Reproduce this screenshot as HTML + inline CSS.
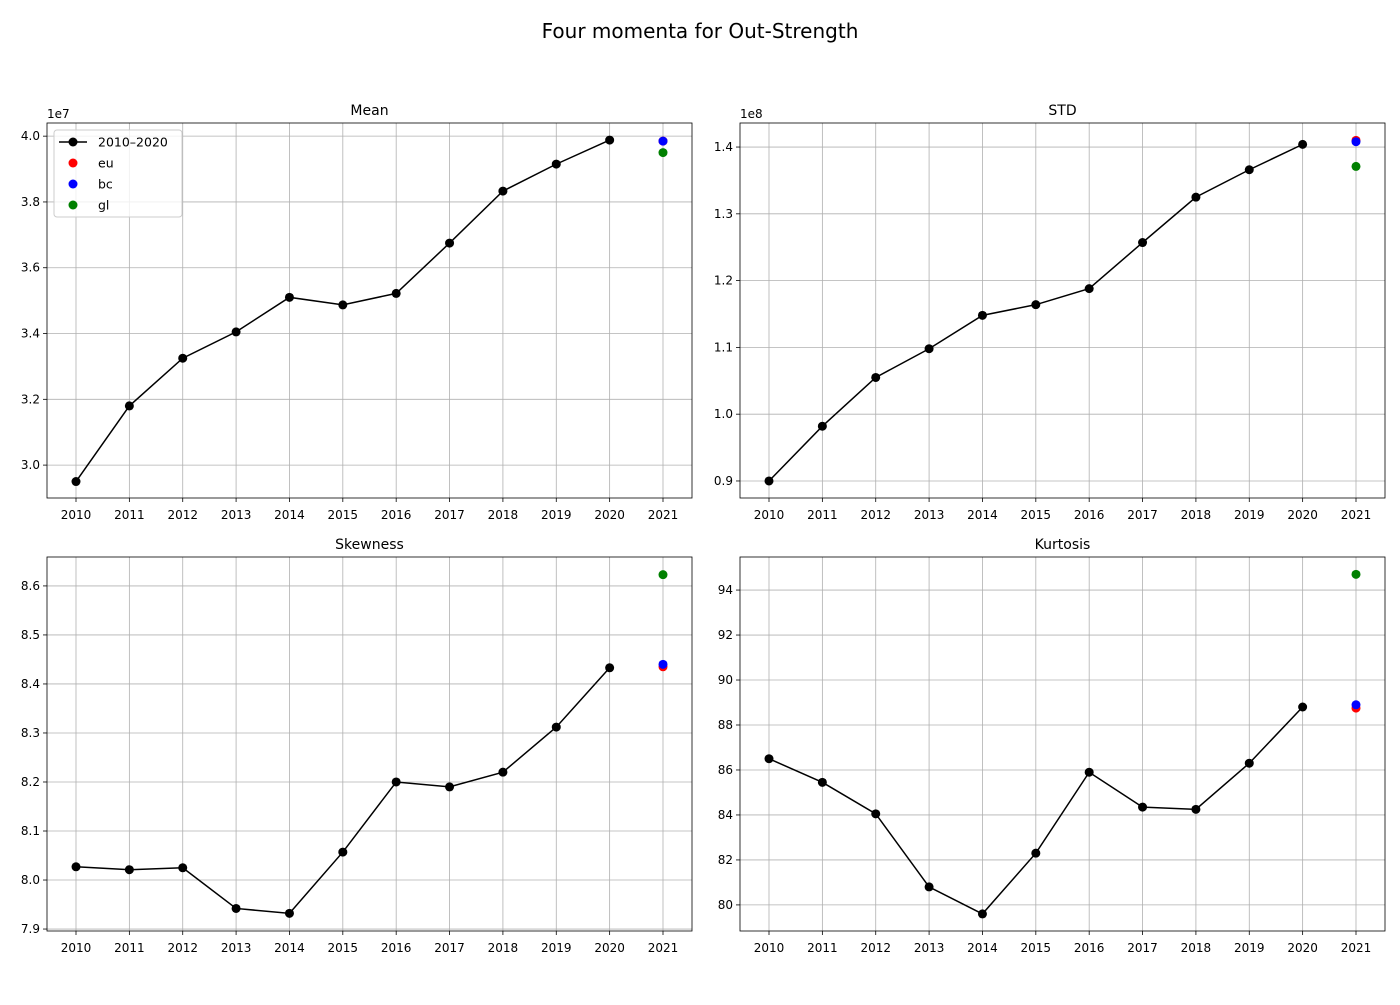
<!DOCTYPE html>
<html><head><meta charset="utf-8">
<style>
body{margin:0;background:#fff;font-family:"Liberation Sans","DejaVu Sans",sans-serif;}
svg text{font-family:"DejaVu Sans","Liberation Sans",sans-serif;}
</style></head>
<body>
<svg id="fig" width="1400" height="1000" xmlns="http://www.w3.org/2000/svg">
<rect width="1400" height="1000" fill="#fff"/>
<text x="700" y="38" font-size="20" text-anchor="middle">Four momenta for Out-Strength</text>
</svg>
<script>
const years = [2010,2011,2012,2013,2014,2015,2016,2017,2018,2019,2020];
const meanVals = [2.95,3.18,3.325,3.405,3.51,3.487,3.522,3.675,3.833,3.915,3.988];
const stdVals = [0.9,0.982,1.055,1.098,1.148,1.164,1.188,1.257,1.325,1.366,1.404];
const skewVals = [8.027,8.021,8.025,7.942,7.932,8.057,8.2,8.19,8.22,8.312,8.433];
const kurtVals = [86.5,85.45,84.05,80.8,79.6,82.3,85.9,84.35,84.25,86.3,88.8];
const extraLabels = ['eu','bc','gl'];
const extraColors = ['#ff0000','#0000ff','#008000'];
const meanExtra = [3.985,3.985,3.95];
const stdExtra = [1.41,1.408,1.371];
const skewExtra = [8.435,8.44,8.623];
const kurtExtra = [88.75,88.9,94.7];
const meanTicks = [3.0,3.2,3.4,3.6,3.8,4.0];
const stdTicks = [0.9,1.0,1.1,1.2,1.3,1.4];
const skewTicks = [7.9,8.0,8.1,8.2,8.3,8.4,8.5,8.6];
const kurtTicks = [80,82,84,86,88,90,92,94];
const xTicks = [2010,2011,2012,2013,2014,2015,2016,2017,2018,2019,2020,2021];

const svg=document.getElementById('fig');
const NS='http://www.w3.org/2000/svg';
function mk(tag,attrs,parent){const e=document.createElementNS(NS,tag);for(const k in attrs)e.setAttribute(k,attrs[k]);(parent||svg).appendChild(e);return e;}

const panels=[
 {name:'mean',title:'Mean',x0:47,x1:692,y0:123,y1:498,ymin:2.9,ymax:4.04,vals:meanVals,extra:meanExtra,ticks:meanTicks,dec:1,exp:'1e7',legend:true},
 {name:'std',title:'STD',x0:740,x1:1385,y0:123,y1:498,ymin:0.8745,ymax:1.436,vals:stdVals,extra:stdExtra,ticks:stdTicks,dec:1,exp:'1e8'},
 {name:'skewness',title:'Skewness',x0:47,x1:692,y0:557,y1:931,ymin:7.896,ymax:8.659,vals:skewVals,extra:skewExtra,ticks:skewTicks,dec:1},
 {name:'kurtosis',title:'Kurtosis',x0:740,x1:1385,y0:557,y1:931,ymin:78.84,ymax:95.47,vals:kurtVals,extra:kurtExtra,ticks:kurtTicks,dec:0}
];
panels.forEach(p=>{
 const g=mk('g',{});
 
 
 const w=p.x1-p.x0;
 const sx=yr=>p.x0+29+(yr-2010)*(w-58)/11;
 const sy=v=>p.y1-(v-p.ymin)/(p.ymax-p.ymin)*(p.y1-p.y0);
 xTicks.forEach(t=>{
  const x=sx(t);
  mk('line',{x1:x,x2:x,y1:p.y0,y2:p.y1,stroke:'#b0b0b0','stroke-width':0.8},g);
  mk('line',{x1:x,x2:x,y1:p.y1,y2:p.y1+4,stroke:'#000','stroke-width':0.8},g);
  const tx=mk('text',{x:x,y:p.y1+21,'font-size':12,'text-anchor':'middle'},g);tx.textContent=t;
 });
 p.ticks.forEach(t=>{
  const y=sy(t);
  mk('line',{x1:p.x0,x2:p.x1,y1:y,y2:y,stroke:'#b0b0b0','stroke-width':0.8},g);
  mk('line',{x1:p.x0-4,x2:p.x0,y1:y,y2:y,stroke:'#000','stroke-width':0.8},g);
  const tx=mk('text',{x:p.x0-7,y:y+4,'font-size':12,'text-anchor':'end'},g);tx.textContent=t.toFixed(p.dec);
 });
 if(p.exp){const tx=mk('text',{x:p.x0,y:p.y0-5,'font-size':12},g);tx.textContent=p.exp;}
 const tt=mk('text',{x:(p.x0+p.x1)/2,y:p.y0-8,'font-size':14,'text-anchor':'middle'},g);tt.textContent=p.title;
 const line=mk('polyline',{points:p.vals.map((v,i)=>sx(years[i])+','+sy(v)).join(' '),fill:'none',stroke:'#000','stroke-width':1.5},g);
 
 
 p.vals.forEach((v,i)=>{
  const c=mk('circle',{cx:sx(years[i]),cy:sy(v),r:4.5,fill:'#000'},g);
  
  
 });
 p.extra.forEach((v,i)=>{
  const c=mk('circle',{cx:sx(2021),cy:sy(v),r:4.5,fill:extraColors[i]},g);
  
  
 });
 mk('rect',{x:p.x0,y:p.y0,width:w,height:p.y1-p.y0,fill:'none',stroke:'#000','stroke-width':0.8},g);
 if(p.legend){
  const lg=mk('g',{},g);
  
  
  mk('rect',{x:54,y:130,width:128,height:87,rx:3,fill:'#fff','fill-opacity':0.8,stroke:'#ccc'},lg);
  mk('line',{x1:59,x2:87,y1:142,y2:142,stroke:'#000','stroke-width':1.5},lg);
  mk('circle',{cx:73,cy:142,r:4.5,fill:'#000'},lg);
  let t=mk('text',{x:98,y:146.5,'font-size':12.5},lg);t.textContent='2010–2020';
  extraLabels.forEach((l,i)=>{
   const y=163+i*21;
   mk('circle',{cx:73,cy:y,r:4.5,fill:extraColors[i]},lg);
   const tx=mk('text',{x:98,y:y+4.5,'font-size':12.5},lg);tx.textContent=l;
  });
 }
});
</script>
</body></html>
